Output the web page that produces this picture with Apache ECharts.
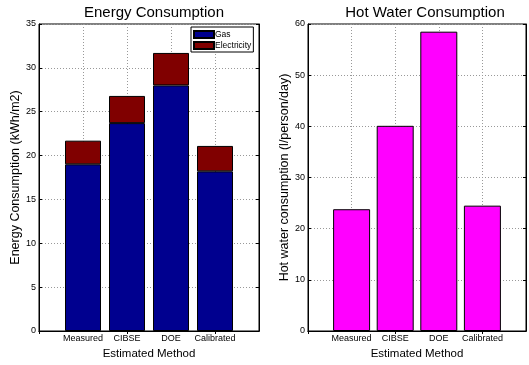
<!DOCTYPE html>
<html>
<head>
<meta charset="utf-8">
<script src="https://cdn.jsdelivr.net/npm/echarts@6/dist/echarts.min.js"></script>
<style>
html,body{margin:0;padding:0;background:#fff;}
#c{width:529px;height:365px;}
</style>
</head>
<body>
<div id="c"></div>
<script>
const categories = ['Measured', 'CIBSE', 'DOE', 'Calibrated'];
const gas = [19.0, 23.7, 28.0, 18.2];
const electricity = [2.7, 3.1, 3.7, 2.9];
const hotWater = [23.8, 40.1, 58.5, 24.5];
const energyTicks = { min: 0, max: 35, interval: 5 };
const waterTicks = { min: 0, max: 60, interval: 10 };

const FONT = 'Liberation Sans, Arial, Helvetica, sans-serif';
const axisCats = [''].concat(categories, ['']);
const pad = arr => [null].concat(arr, [null]);

function xAxes(gridIndex) {
  return [
    {
      type: 'category', gridIndex, position: 'bottom', data: axisCats, boundaryGap: false,
      axisLine: { lineStyle: { color: '#000', width: 1 } },
      axisTick: { inside: true, length: 3, lineStyle: { color: '#000' } },
      axisLabel: { color: '#000', fontSize: 9, fontFamily: FONT, margin: 3, interval: 0 },
      splitLine: { show: true, lineStyle: { type: [1, 2], color: '#999' } },
      name: 'Estimated Method', nameLocation: 'middle', nameGap: 17,
      nameTextStyle: { color: '#000', fontSize: 11.5, fontFamily: FONT }
    },
    {
      type: 'category', gridIndex, position: 'top', data: axisCats, boundaryGap: false,
      axisLine: { lineStyle: { color: '#000', width: 1 } },
      axisTick: { inside: true, length: 3, lineStyle: { color: '#000' } },
      axisLabel: { show: false }, splitLine: { show: false }
    }
  ];
}
function yAxes(gridIndex, ticks, name, nameGap) {
  return [
    {
      type: 'value', gridIndex, position: 'left', min: ticks.min, max: ticks.max, interval: ticks.interval,
      axisLine: { show: true, lineStyle: { color: '#000', width: 1 } },
      axisTick: { show: true, inside: true, length: 3, lineStyle: { color: '#000' } },
      axisLabel: { color: '#000', fontSize: 9, fontFamily: FONT, margin: 3 },
      splitLine: { show: true, lineStyle: { type: [1, 2], color: '#999' } },
      name, nameLocation: 'middle', nameGap, nameRotate: 90,
      nameTextStyle: { color: '#000', fontSize: 12.5, fontFamily: FONT }
    },
    {
      type: 'value', gridIndex, position: 'right', min: ticks.min, max: ticks.max, interval: ticks.interval,
      axisLine: { show: true, lineStyle: { color: '#000', width: 1 } },
      axisTick: { show: true, inside: true, length: 3, lineStyle: { color: '#000' } },
      axisLabel: { show: false }, splitLine: { show: false }
    }
  ];
}

const option = {
  animation: false,
  backgroundColor: '#fff',
  title: [
    { text: 'Energy Consumption', left: 149, top: 0, textAlign: 'center',
      textStyle: { fontSize: 15, fontWeight: 'normal', color: '#000', fontFamily: FONT } },
    { text: 'Hot Water Consumption', left: 420, top: 0, textAlign: 'center',
      textStyle: { fontSize: 15, fontWeight: 'normal', color: '#000', fontFamily: FONT } }
  ],
  legend: {
    data: ['Gas', 'Electricity'], orient: 'vertical', left: 191, top: 27,
    itemWidth: 20, itemHeight: 7, itemGap: 2, padding: [3, 2, 2, 2],
    borderColor: '#000', borderWidth: 1, backgroundColor: '#fff',
    textStyle: { fontSize: 8.5, color: '#000', fontFamily: FONT, padding: [0, 0, 0, -4] },
    icon: 'rect'
  },
  grid: [
    { left: 39, top: 24, width: 220, height: 313, show: true, borderColor: '#000', borderWidth: 1, backgroundColor: '#fff' },
    { left: 308, top: 24, width: 223.5, height: 313, show: true, borderColor: '#000', borderWidth: 1, backgroundColor: '#fff' }
  ],
  xAxis: xAxes(0).concat(xAxes(1)),
  yAxis: yAxes(0, energyTicks, 'Energy Consumption (kWh/m2)', 15).concat(
         yAxes(1, waterTicks, 'Hot water consumption (l/person/day)', 13)),
  series: [
    { name: 'Gas', type: 'bar', stack: 'e', xAxisIndex: 0, yAxisIndex: 0, data: pad(gas), barWidth: 36,
      itemStyle: { color: '#00008F', borderColor: '#000', borderWidth: 1 } },
    { name: 'Electricity', type: 'bar', stack: 'e', xAxisIndex: 0, yAxisIndex: 0, data: pad(electricity), barWidth: 36,
      itemStyle: { color: '#800000', borderColor: '#000', borderWidth: 1 } },
    { name: 'Hot water', type: 'bar', xAxisIndex: 2, yAxisIndex: 2, data: pad(hotWater), barWidth: 37,
      itemStyle: { color: '#FF00FF', borderColor: '#000', borderWidth: 1 } }
  ]
};
const chart = echarts.init(document.getElementById('c'), null, { renderer: 'canvas' });
chart.setOption(option);
</script>
</body>
</html>
